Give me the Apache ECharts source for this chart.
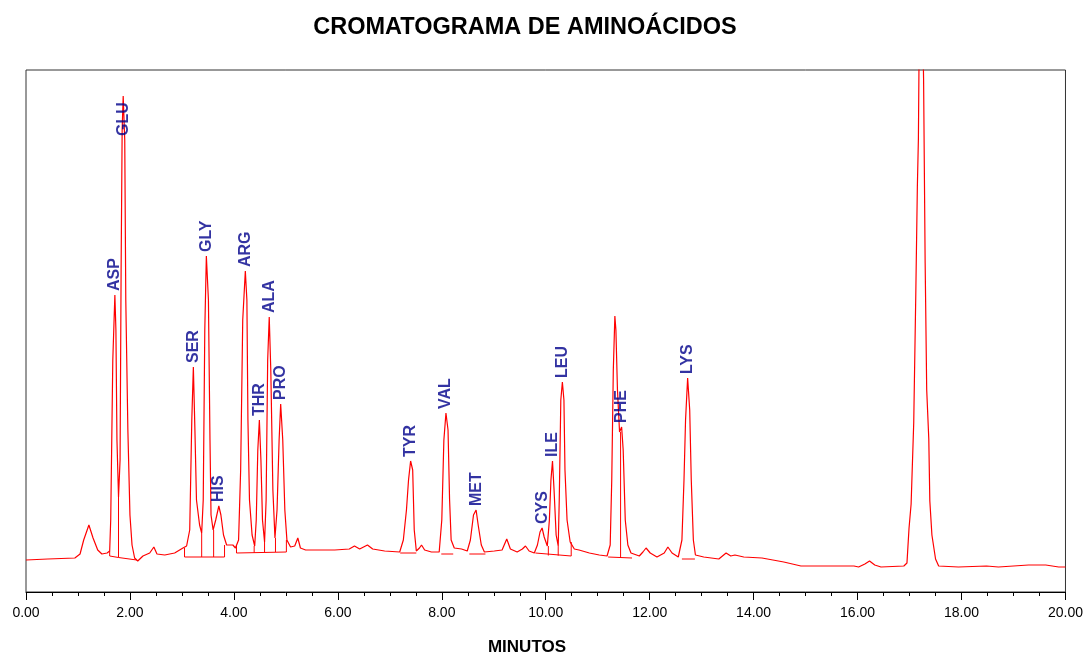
<!DOCTYPE html>
<html>
<head>
<meta charset="utf-8">
<script src="https://cdn.jsdelivr.net/npm/echarts@6/dist/echarts.min.js"></script>
<style>
html,body{margin:0;padding:0;background:#fff;}
#chart{width:1086px;height:652px;}
</style>
</head>
<body>
<div id="chart"></div>
<script>
// Chromatogram trace: retention time (min) and detector signal (arbitrary units)
const traceTime = [0.00,0.42,0.94,1.04,1.11,1.21,1.29,1.38,1.46,1.56,1.61,
  1.63,1.67,1.71,1.73,1.75,1.78,
  1.81,1.83,1.85,1.87,1.90,1.92,1.96,2.00,2.04,2.09,2.15,2.25,2.38,2.46,2.52,2.67,2.86,3.02,3.09,
  3.15,3.19,3.22,3.25,3.28,3.34,3.38,
  3.41,3.44,3.47,3.51,3.54,3.56,3.60,
  3.65,3.71,3.75,3.80,3.86,3.98,4.03,
  4.09,4.13,4.17,4.22,4.25,4.27,4.30,4.35,4.40,
  4.43,4.46,4.49,4.52,4.55,4.59,
  4.62,4.65,4.68,4.71,4.75,4.79,
  4.83,4.87,4.90,4.94,4.98,5.02,5.09,5.17,5.23,5.28,5.38,5.65,5.94,6.22,6.32,6.42,6.57,6.67,6.90,7.19,
  7.26,7.32,7.36,7.40,7.44,7.47,7.51,7.57,7.61,7.67,7.80,7.95,
  8.00,8.04,8.08,8.12,8.15,8.18,8.24,8.38,8.49,
  8.55,8.61,8.66,8.70,8.76,8.82,9.01,9.16,9.25,9.32,9.45,9.55,9.61,9.68,9.78,
  9.84,9.89,9.93,9.97,10.03,
  10.07,10.10,10.13,10.16,10.20,10.24,
  10.26,10.29,10.32,10.35,10.37,10.41,10.47,10.55,10.64,10.84,11.03,11.18,
  11.24,11.27,11.30,11.33,11.35,11.38,11.42,11.46,11.49,11.53,11.58,11.64,11.80,11.87,11.93,12.01,12.14,12.28,12.35,12.43,12.55,
  12.62,12.66,12.69,12.73,12.77,12.80,12.84,12.88,13.04,13.33,13.47,13.56,13.64,13.81,14.16,14.58,14.91,15.93,16.02,16.14,16.23,16.33,16.45,16.89,
  16.95,16.99,17.03,17.08,17.12,17.15,17.17,17.21,17.27,17.30,17.33,17.37,17.39,17.43,17.50,17.56,17.94,18.48,18.71,19.29,19.62,19.87,20.00];
const traceSignal = [32,33,34,38,52,67,54,42,38,39,41,
  72,232,297,262,152,95,
  132,322,462,496,452,292,162,77,47,34,31,36,39,45,38,37,39,44,46,
  62,172,225,162,92,67,59,
  92,262,336,292,152,77,62,
  72,86,77,57,47,47,44,
  52,122,272,321,292,172,92,57,46,
  72,142,172,132,72,50,
  92,232,275,222,102,54,
  82,152,188,152,82,52,45,46,54,44,42,42,42,43,46,43,47,43,41,40,
  52,82,112,131,122,62,41,44,47,42,40,40,
  72,152,179,162,92,52,44,43,41,
  52,77,82,67,47,40,41,42,53,43,40,43,46,41,39,
  47,60,64,55,46,
  72,112,131,102,57,46,
  92,192,210,192,122,72,50,43,42,39,37,36,
  47,112,222,276,262,202,160,165,142,72,47,39,36,40,44,39,35,39,45,39,35,
  52,112,172,214,182,112,52,37,35,33,39,36,37,35,34,30,26,26,25,28,31,27,25,26,
  29,64,88,169,298,405,453,712,512,329,202,153,91,57,33,26,25,26,25,27,27,25,25];

// Integration baselines and peak drop lines (null = break)
const baseTime = [1.61,1.61,1.78,2.13,null, 1.78,1.78,null,
  3.05,3.05,3.82,3.82,null, 3.38,3.38,null, 3.61,3.61,null,
  4.05,4.05,5.01,5.01,null, 4.39,4.39,null, 4.59,4.59,null, 4.80,4.80,null,
  7.20,7.51,null, 7.99,8.22,null, 8.53,8.84,null,
  9.80,9.80,10.49,10.49,null, 10.05,10.05,null, 10.24,10.24,null,
  11.20,11.66,null, 11.44,11.44,null, 12.62,12.87];
const baseSignal = [41,36,34.5,32,null, 95,34.5,null,
  44,35,35,47,null, 59,35,null, 62,35,null,
  46,39,40,52,null, 46,39.2,null, 50,39.6,null, 54,40,null,
  39,39,null, 38,38,null, 38,38,null,
  39,37,36,50,null, 46,36.5,null, 46,36.3,null,
  35,34,null, 160,34.5,null, 33,33];

// Peak identification labels
const peakNames = ['ASP','GLU','SER','GLY','HIS','ARG','THR','ALA','PRO','TYR','VAL','MET','CYS','ILE','LEU','PHE','LYS'];
const peakTimes = [1.71,1.87,3.22,3.47,3.71,4.22,4.49,4.68,4.90,7.40,8.08,8.66,9.93,10.13,10.32,11.46,12.73];
const labelHeights = [297,452,225,336,86,321,172,275,188,131,179,82,64,131,210,165,214];

const titleText = 'CROMATOGRAMA DE AMINOÁCIDOS';
const xAxisTitle = 'MINUTOS';

const traceData = traceTime.map((t, i) => [t, traceSignal[i]]);
const baseData = baseTime.map((t, i) => baseSignal[i] === null ? [baseTime[i - 1], '-'] : [t, baseSignal[i]]);
const labelData = peakNames.map((n, i) => ({ value: [peakTimes[i], labelHeights[i]], name: n }));

const chart = echarts.init(document.getElementById('chart'), null, { renderer: 'canvas' });
chart.setOption({
  animation: false,
  backgroundColor: '#ffffff',
  graphic: [
    { type: 'text', x: 525, y: 28, style: { text: titleText, fill: '#000', font: 'bold 23.5px "Liberation Sans", Arial, sans-serif', align: 'center', verticalAlign: 'middle', textAlign: 'center', textVerticalAlign: 'middle' } },
    { type: 'text', x: 527, y: 647, style: { text: xAxisTitle, fill: '#000', font: 'bold 17px "Liberation Sans", Arial, sans-serif', align: 'center', verticalAlign: 'middle', textAlign: 'center', textVerticalAlign: 'middle' } }
  ],
  grid: { left: 26, right: 19, top: 70, bottom: 60, show: true, borderColor: '#333', borderWidth: 1, backgroundColor: 'transparent' },
  xAxis: {
    type: 'value', min: 0, max: 20, interval: 2,
    axisLine: { show: true, onZero: false, lineStyle: { color: '#000', width: 1 } },
    axisTick: { show: true, length: 8, lineStyle: { color: '#000' } },
    minorTick: { show: true, splitNumber: 4, length: 4, lineStyle: { color: '#000' } },
    splitLine: { show: false },
    axisLabel: { color: '#000', fontSize: 14, fontFamily: '"Liberation Sans", Arial, sans-serif', margin: 14, formatter: v => v.toFixed(2) }
  },
  yAxis: {
    type: 'value', min: 0, max: 522,
    show: true,
    axisLine: { show: false }, axisTick: { show: false }, axisLabel: { show: false }, splitLine: { show: false }
  },
  series: [
    {
      type: 'line', data: baseData, showSymbol: false, symbol: 'none', clip: true,
      lineStyle: { color: '#ff0000', width: 1 }, z: 2, silent: true
    },
    {
      type: 'line', data: traceData, showSymbol: false, symbol: 'none', clip: true,
      lineStyle: { color: '#ff0000', width: 1.2 }, z: 3, silent: true
    },
    {
      type: 'scatter', data: labelData, symbolSize: 0, z: 5, silent: true,
      label: {
        show: true, formatter: p => p.name, position: 'top', distance: 4,
        rotate: 90, align: 'left', verticalAlign: 'middle',
        color: '#00008b', fontSize: 16, fontWeight: 'bold',
        fontFamily: '"Liberation Sans", Arial, sans-serif'
      }
    }
  ]
});
</script>
</body>
</html>
